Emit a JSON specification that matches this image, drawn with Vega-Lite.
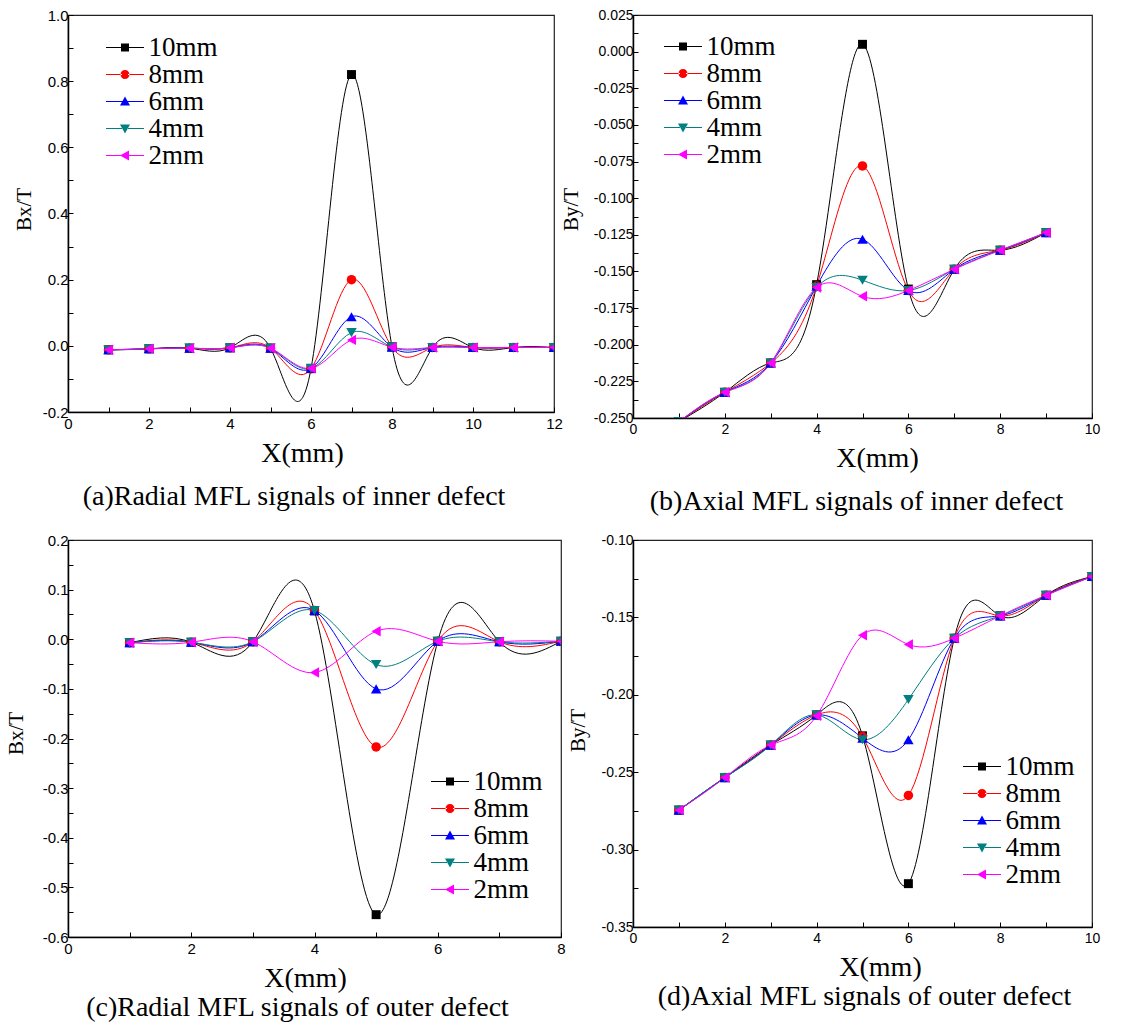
{
  "$schema": "https://vega.github.io/schema/vega-lite/v6.json",
  "padding": {"left": 4, "top": 7, "right": 5, "bottom": 5},
  "background": "white",
  "config": {
    "font": "Liberation Serif",
    "view": {"stroke": "#222", "strokeWidth": 1.2},
    "axis": {"domainColor": "#000", "domainWidth": 1.5, "tickColor": "#000", "tickWidth": 1, "tickSize": -5, "labelFont": "Liberation Sans", "labelFontSize": 15, "labelColor": "#000", "titleFont": "Liberation Serif", "titleFontWeight": "normal", "titleColor": "#000", "grid": false, "labelFlush": false, "labelOverlap": false, "labelPadding": 5},
    "axisX": {"titleFontSize": 28, "titlePadding": 8, "labelPadding": 9},
    "axisY": {"titleFontSize": 21, "titleBaseline": "middle"},
    "title": {"font": "Liberation Serif", "fontSize": 28, "fontWeight": "normal", "color": "#000", "orient": "bottom"}
  },
  "datasets": {
    "a": [
      {"s":"10mm","x":1,"y":-0.012},{"s":"10mm","x":2,"y":-0.009},{"s":"10mm","x":3,"y":-0.007},{"s":"10mm","x":4,"y":-0.006},{"s":"10mm","x":5,"y":-0.007},{"s":"10mm","x":6,"y":-0.069},{"s":"10mm","x":7,"y":0.82},{"s":"10mm","x":8,"y":-0.003},{"s":"10mm","x":9,"y":-0.005},{"s":"10mm","x":10,"y":-0.005},{"s":"10mm","x":11,"y":-0.005},{"s":"10mm","x":12,"y":-0.005},
      {"s":"8mm","x":1,"y":-0.012},{"s":"8mm","x":2,"y":-0.009},{"s":"8mm","x":3,"y":-0.007},{"s":"8mm","x":4,"y":-0.006},{"s":"8mm","x":5,"y":-0.007},{"s":"8mm","x":6,"y":-0.069},{"s":"8mm","x":7,"y":0.2},{"s":"8mm","x":8,"y":-0.004},{"s":"8mm","x":9,"y":-0.005},{"s":"8mm","x":10,"y":-0.005},{"s":"8mm","x":11,"y":-0.005},{"s":"8mm","x":12,"y":-0.005},
      {"s":"6mm","x":1,"y":-0.012},{"s":"6mm","x":2,"y":-0.009},{"s":"6mm","x":3,"y":-0.007},{"s":"6mm","x":4,"y":-0.006},{"s":"6mm","x":5,"y":-0.007},{"s":"6mm","x":6,"y":-0.068},{"s":"6mm","x":7,"y":0.088},{"s":"6mm","x":8,"y":-0.004},{"s":"6mm","x":9,"y":-0.005},{"s":"6mm","x":10,"y":-0.005},{"s":"6mm","x":11,"y":-0.005},{"s":"6mm","x":12,"y":-0.005},
      {"s":"4mm","x":1,"y":-0.013},{"s":"4mm","x":2,"y":-0.009},{"s":"4mm","x":3,"y":-0.007},{"s":"4mm","x":4,"y":-0.006},{"s":"4mm","x":5,"y":-0.007},{"s":"4mm","x":6,"y":-0.068},{"s":"4mm","x":7,"y":0.04},{"s":"4mm","x":8,"y":-0.004},{"s":"4mm","x":9,"y":-0.005},{"s":"4mm","x":10,"y":-0.005},{"s":"4mm","x":11,"y":-0.005},{"s":"4mm","x":12,"y":-0.005},
      {"s":"2mm","x":1,"y":-0.012},{"s":"2mm","x":2,"y":-0.009},{"s":"2mm","x":3,"y":-0.007},{"s":"2mm","x":4,"y":-0.006},{"s":"2mm","x":5,"y":-0.007},{"s":"2mm","x":6,"y":-0.068},{"s":"2mm","x":7,"y":0.018},{"s":"2mm","x":8,"y":-0.004},{"s":"2mm","x":9,"y":-0.005},{"s":"2mm","x":10,"y":-0.005},{"s":"2mm","x":11,"y":-0.005},{"s":"2mm","x":12,"y":-0.005}
    ],
    "b": [
      {"s":"10mm","x":1,"y":-0.2525},{"s":"10mm","x":2,"y":-0.2325},{"s":"10mm","x":3,"y":-0.2125},{"s":"10mm","x":4,"y":-0.159},{"s":"10mm","x":5,"y":0.005},{"s":"10mm","x":6,"y":-0.162},{"s":"10mm","x":7,"y":-0.1485},{"s":"10mm","x":8,"y":-0.1355},{"s":"10mm","x":9,"y":-0.1235},
      {"s":"8mm","x":1,"y":-0.2525},{"s":"8mm","x":2,"y":-0.2325},{"s":"8mm","x":3,"y":-0.2125},{"s":"8mm","x":4,"y":-0.16},{"s":"8mm","x":5,"y":-0.078},{"s":"8mm","x":6,"y":-0.163},{"s":"8mm","x":7,"y":-0.1485},{"s":"8mm","x":8,"y":-0.1355},{"s":"8mm","x":9,"y":-0.1235},
      {"s":"6mm","x":1,"y":-0.2525},{"s":"6mm","x":2,"y":-0.2325},{"s":"6mm","x":3,"y":-0.2125},{"s":"6mm","x":4,"y":-0.16},{"s":"6mm","x":5,"y":-0.128},{"s":"6mm","x":6,"y":-0.163},{"s":"6mm","x":7,"y":-0.1485},{"s":"6mm","x":8,"y":-0.1355},{"s":"6mm","x":9,"y":-0.1235},
      {"s":"4mm","x":1,"y":-0.2525},{"s":"4mm","x":2,"y":-0.2325},{"s":"4mm","x":3,"y":-0.2125},{"s":"4mm","x":4,"y":-0.161},{"s":"4mm","x":5,"y":-0.156},{"s":"4mm","x":6,"y":-0.163},{"s":"4mm","x":7,"y":-0.1485},{"s":"4mm","x":8,"y":-0.1355},{"s":"4mm","x":9,"y":-0.1235},
      {"s":"2mm","x":1,"y":-0.2525},{"s":"2mm","x":2,"y":-0.2325},{"s":"2mm","x":3,"y":-0.2125},{"s":"2mm","x":4,"y":-0.161},{"s":"2mm","x":5,"y":-0.167},{"s":"2mm","x":6,"y":-0.163},{"s":"2mm","x":7,"y":-0.1485},{"s":"2mm","x":8,"y":-0.1355},{"s":"2mm","x":9,"y":-0.1235}
    ],
    "c": [
      {"s":"10mm","x":1,"y":-0.007},{"s":"10mm","x":2,"y":-0.006},{"s":"10mm","x":3,"y":-0.005},{"s":"10mm","x":4,"y":0.057},{"s":"10mm","x":5,"y":-0.555},{"s":"10mm","x":6,"y":-0.004},{"s":"10mm","x":7,"y":-0.005},{"s":"10mm","x":8,"y":-0.004},
      {"s":"8mm","x":1,"y":-0.007},{"s":"8mm","x":2,"y":-0.006},{"s":"8mm","x":3,"y":-0.005},{"s":"8mm","x":4,"y":0.058},{"s":"8mm","x":5,"y":-0.217},{"s":"8mm","x":6,"y":-0.004},{"s":"8mm","x":7,"y":-0.005},{"s":"8mm","x":8,"y":-0.004},
      {"s":"6mm","x":1,"y":-0.007},{"s":"6mm","x":2,"y":-0.006},{"s":"6mm","x":3,"y":-0.005},{"s":"6mm","x":4,"y":0.058},{"s":"6mm","x":5,"y":-0.1},{"s":"6mm","x":6,"y":-0.004},{"s":"6mm","x":7,"y":-0.005},{"s":"6mm","x":8,"y":-0.004},
      {"s":"4mm","x":1,"y":-0.007},{"s":"4mm","x":2,"y":-0.006},{"s":"4mm","x":3,"y":-0.005},{"s":"4mm","x":4,"y":0.058},{"s":"4mm","x":5,"y":-0.051},{"s":"4mm","x":6,"y":-0.004},{"s":"4mm","x":7,"y":-0.005},{"s":"4mm","x":8,"y":-0.004},
      {"s":"2mm","x":1,"y":-0.007},{"s":"2mm","x":2,"y":-0.006},{"s":"2mm","x":3,"y":-0.005},{"s":"2mm","x":4,"y":-0.067},{"s":"2mm","x":5,"y":0.016},{"s":"2mm","x":6,"y":-0.004},{"s":"2mm","x":7,"y":-0.005},{"s":"2mm","x":8,"y":-0.004}
    ],
    "d": [
      {"s":"10mm","x":1,"y":-0.2745},{"s":"10mm","x":2,"y":-0.2535},{"s":"10mm","x":3,"y":-0.2325},{"s":"10mm","x":4,"y":-0.213},{"s":"10mm","x":5,"y":-0.2265},{"s":"10mm","x":6,"y":-0.322},{"s":"10mm","x":7,"y":-0.1635},{"s":"10mm","x":8,"y":-0.149},{"s":"10mm","x":9,"y":-0.1357},{"s":"10mm","x":10,"y":-0.1236},
      {"s":"8mm","x":1,"y":-0.2745},{"s":"8mm","x":2,"y":-0.2535},{"s":"8mm","x":3,"y":-0.2325},{"s":"8mm","x":4,"y":-0.213},{"s":"8mm","x":5,"y":-0.227},{"s":"8mm","x":6,"y":-0.265},{"s":"8mm","x":7,"y":-0.1635},{"s":"8mm","x":8,"y":-0.149},{"s":"8mm","x":9,"y":-0.1357},{"s":"8mm","x":10,"y":-0.1236},
      {"s":"6mm","x":1,"y":-0.2745},{"s":"6mm","x":2,"y":-0.2535},{"s":"6mm","x":3,"y":-0.2325},{"s":"6mm","x":4,"y":-0.213},{"s":"6mm","x":5,"y":-0.228},{"s":"6mm","x":6,"y":-0.229},{"s":"6mm","x":7,"y":-0.1635},{"s":"6mm","x":8,"y":-0.149},{"s":"6mm","x":9,"y":-0.1357},{"s":"6mm","x":10,"y":-0.1236},
      {"s":"4mm","x":1,"y":-0.2745},{"s":"4mm","x":2,"y":-0.2535},{"s":"4mm","x":3,"y":-0.2325},{"s":"4mm","x":4,"y":-0.213},{"s":"4mm","x":5,"y":-0.229},{"s":"4mm","x":6,"y":-0.203},{"s":"4mm","x":7,"y":-0.1635},{"s":"4mm","x":8,"y":-0.149},{"s":"4mm","x":9,"y":-0.1357},{"s":"4mm","x":10,"y":-0.1236},
      {"s":"2mm","x":1,"y":-0.2745},{"s":"2mm","x":2,"y":-0.2535},{"s":"2mm","x":3,"y":-0.2325},{"s":"2mm","x":4,"y":-0.2135},{"s":"2mm","x":5,"y":-0.1615},{"s":"2mm","x":6,"y":-0.1675},{"s":"2mm","x":7,"y":-0.1635},{"s":"2mm","x":8,"y":-0.149},{"s":"2mm","x":9,"y":-0.1357},{"s":"2mm","x":10,"y":-0.1236}
    ]
  },
  "columns": 2,
  "bounds": "flush",
  "spacing": {"row": 122, "column": 72},
  "resolve": {"scale": {"color": "independent", "shape": "independent", "stroke": "independent"}, "legend": {"color": "independent", "shape": "independent"}},
  "concat": [
    {
      "width": 486, "height": 397,
      "data": {"name": "a"},
      "title": {"text": "(a)Radial MFL signals of inner defect", "dx": -17, "offset": 16},
      "encoding": {
        "x": {"field": "x", "type": "quantitative", "scale": {"domain": [0, 12], "nice": false, "zero": false},
              "axis": {"title": "X(mm)", "values": [0,1,2,3,4,5,6,7,8,9,10,11,12], "labelExpr": "datum.value % 2 == 0 ? datum.label : ''", "titleX": 234}},
        "y": {"field": "y", "type": "quantitative", "scale": {"domain": [-0.2, 1.0], "nice": false, "zero": false},
              "axis": {"title": "Bx/T", "values": [-0.2,-0.1,0,0.1,0.2,0.3,0.4,0.5,0.6,0.7,0.8,0.9,1.0], "labelExpr": "abs(round(datum.value*10)) % 2 == 0 ? replace(format(datum.value, '.1f'), '\u2212', '-') : ''", "titleX": -43.5, "titleY": 194}}
      },
      "layer": [
        {"mark": {"type": "point", "filled": true, "opacity": 1, "size": 1, "clip": true},
         "encoding": {
           "color": {"field": "s", "type": "nominal", "scale": {"domain": ["10mm","8mm","6mm","4mm","2mm"], "range": ["#000000","#ff0000","#0000ff","#008080","#ff00ff"]}, "legend": {"orient": "none", "title": null, "legendX": 43.5, "legendY": 19, "labelFont": "Liberation Serif", "labelFontSize": 27, "labelColor": "#000", "symbolSize": 400, "symbolStrokeWidth": 0, "symbolOpacity": 1, "labelOffset": 10, "rowPadding": -4, "padding": 0}},
           "shape": {"field": "s", "type": "nominal", "scale": {"domain": ["10mm","8mm","6mm","4mm","2mm"], "range": [
             "M-1.9,-0.06H-0.3V0.06H-1.9ZM0.3,-0.06H1.9V0.06H0.3ZM-0.4,-0.4H0.4V0.4H-0.4Z",
             "M-1.9,-0.06H-0.3V0.06H-1.9ZM0.3,-0.06H1.9V0.06H0.3ZM-0.45,0A0.45,0.45,0,1,0,0.45,0A0.45,0.45,0,1,0,-0.45,0Z",
             "M-1.9,-0.06H-0.25V0.06H-1.9ZM0.25,-0.06H1.9V0.06H0.25ZM0,-0.5L0.5,0.4L-0.5,0.4Z",
             "M-1.9,-0.06H-0.25V0.06H-1.9ZM0.25,-0.06H1.9V0.06H0.25ZM0,0.5L0.5,-0.4L-0.5,-0.4Z",
             "M-1.9,-0.06H-0.45V0.06H-1.9ZM0.4,-0.06H1.9V0.06H0.4ZM-0.5,0L0.4,-0.5L0.4,0.5Z"]}, "legend": {"orient": "none", "title": null, "legendX": 43.5, "legendY": 19, "labelFont": "Liberation Serif", "labelFontSize": 27, "labelColor": "#000", "symbolSize": 400, "symbolStrokeWidth": 0, "symbolOpacity": 1, "labelOffset": 10, "rowPadding": -4, "padding": 0}}
         }},
        {"mark": {"type": "line", "interpolate": "natural", "strokeWidth": 1, "clip": true},
         "encoding": {"stroke": {"field": "s", "type": "nominal", "scale": {"domain": ["10mm","8mm","6mm","4mm","2mm"], "range": ["#000000","#ff0000","#0000ff","#008080","#ff00ff"]}, "legend": null}}},
        {"transform": [{"filter": "datum.s == '10mm'"}], "mark": {"type": "point", "shape": "square", "filled": true, "size": 80, "color": "#000000", "opacity": 1, "clip": true}, "encoding": {}},
        {"transform": [{"filter": "datum.s == '8mm'"}], "mark": {"type": "point", "shape": "circle", "filled": true, "size": 90, "color": "#ff0000", "opacity": 1, "clip": true}, "encoding": {}},
        {"transform": [{"filter": "datum.s == '6mm'"}], "mark": {"type": "point", "shape": "triangle-up", "filled": true, "size": 110, "color": "#0000ff", "opacity": 1, "clip": true}, "encoding": {}},
        {"transform": [{"filter": "datum.s == '4mm'"}], "mark": {"type": "point", "shape": "triangle-down", "filled": true, "size": 110, "color": "#008080", "opacity": 1, "clip": true}, "encoding": {}},
        {"transform": [{"filter": "datum.s == '2mm'"}], "mark": {"type": "point", "shape": "triangle-left", "filled": true, "size": 110, "color": "#ff00ff", "opacity": 1, "clip": true}, "encoding": {}}
      ]
    },
    {
      "width": 459, "height": 403,
      "data": {"name": "b"},
      "title": {"text": "(b)Axial MFL signals of inner defect", "dx": -6, "offset": 16},
      "encoding": {
        "x": {"field": "x", "type": "quantitative", "scale": {"domain": [0, 10], "nice": false, "zero": false},
              "axis": {"title": "X(mm)", "values": [0,1,2,3,4,5,6,7,8,9,10], "labelExpr": "datum.value % 2 == 0 ? datum.label : ''", "titleX": 244, "labelFontSize": 14}},
        "y": {"field": "y", "type": "quantitative", "scale": {"domain": [-0.25, 0.025], "nice": false, "zero": false},
              "axis": {"title": "By/T", "values": [-0.25,-0.2375,-0.225,-0.2125,-0.2,-0.1875,-0.175,-0.1625,-0.15,-0.1375,-0.125,-0.1125,-0.1,-0.0875,-0.075,-0.0625,-0.05,-0.0375,-0.025,-0.0125,0,0.0125,0.025], "labelExpr": "abs(round(datum.value/0.0125)) % 2 == 0 ? replace(format(datum.value, '.3f'), '\u2212', '-') : ''", "titleX": -62, "titleY": 194, "labelFontSize": 14}}
      },
      "layer": [
        {"mark": {"type": "point", "filled": true, "opacity": 1, "size": 1, "clip": true},
         "encoding": {
           "color": {"field": "s", "type": "nominal", "scale": {"domain": ["10mm","8mm","6mm","4mm","2mm"], "range": ["#000000","#ff0000","#0000ff","#008080","#ff00ff"]}, "legend": {"orient": "none", "title": null, "legendX": 36.5, "legendY": 18, "labelFont": "Liberation Serif", "labelFontSize": 27, "labelColor": "#000", "symbolSize": 400, "symbolStrokeWidth": 0, "symbolOpacity": 1, "labelOffset": 10, "rowPadding": -4, "padding": 0}},
           "shape": {"field": "s", "type": "nominal", "scale": {"domain": ["10mm","8mm","6mm","4mm","2mm"], "range": [
             "M-1.9,-0.06H-0.3V0.06H-1.9ZM0.3,-0.06H1.9V0.06H0.3ZM-0.4,-0.4H0.4V0.4H-0.4Z",
             "M-1.9,-0.06H-0.3V0.06H-1.9ZM0.3,-0.06H1.9V0.06H0.3ZM-0.45,0A0.45,0.45,0,1,0,0.45,0A0.45,0.45,0,1,0,-0.45,0Z",
             "M-1.9,-0.06H-0.25V0.06H-1.9ZM0.25,-0.06H1.9V0.06H0.25ZM0,-0.5L0.5,0.4L-0.5,0.4Z",
             "M-1.9,-0.06H-0.25V0.06H-1.9ZM0.25,-0.06H1.9V0.06H0.25ZM0,0.5L0.5,-0.4L-0.5,-0.4Z",
             "M-1.9,-0.06H-0.45V0.06H-1.9ZM0.4,-0.06H1.9V0.06H0.4ZM-0.5,0L0.4,-0.5L0.4,0.5Z"]}, "legend": {"orient": "none", "title": null, "legendX": 36.5, "legendY": 18, "labelFont": "Liberation Serif", "labelFontSize": 27, "labelColor": "#000", "symbolSize": 400, "symbolStrokeWidth": 0, "symbolOpacity": 1, "labelOffset": 10, "rowPadding": -4, "padding": 0}}
         }},
        {"mark": {"type": "line", "interpolate": "natural", "strokeWidth": 1, "clip": true},
         "encoding": {"stroke": {"field": "s", "type": "nominal", "scale": {"domain": ["10mm","8mm","6mm","4mm","2mm"], "range": ["#000000","#ff0000","#0000ff","#008080","#ff00ff"]}, "legend": null}}},
        {"transform": [{"filter": "datum.s == '10mm'"}], "mark": {"type": "point", "shape": "square", "filled": true, "size": 80, "color": "#000000", "opacity": 1, "clip": true}, "encoding": {}},
        {"transform": [{"filter": "datum.s == '8mm'"}], "mark": {"type": "point", "shape": "circle", "filled": true, "size": 90, "color": "#ff0000", "opacity": 1, "clip": true}, "encoding": {}},
        {"transform": [{"filter": "datum.s == '6mm'"}], "mark": {"type": "point", "shape": "triangle-up", "filled": true, "size": 110, "color": "#0000ff", "opacity": 1, "clip": true}, "encoding": {}},
        {"transform": [{"filter": "datum.s == '4mm'"}], "mark": {"type": "point", "shape": "triangle-down", "filled": true, "size": 110, "color": "#008080", "opacity": 1, "clip": true}, "encoding": {}},
        {"transform": [{"filter": "datum.s == '2mm'"}], "mark": {"type": "point", "shape": "triangle-left", "filled": true, "size": 110, "color": "#ff00ff", "opacity": 1, "clip": true}, "encoding": {}}
      ]
    },
    {
      "width": 493, "height": 397,
      "data": {"name": "c"},
      "title": {"text": "(c)Radial MFL signals of outer defect", "dx": -17, "offset": 2},
      "encoding": {
        "x": {"field": "x", "type": "quantitative", "scale": {"domain": [0, 8], "nice": false, "zero": false},
              "axis": {"title": "X(mm)", "values": [0,1,2,3,4,5,6,7,8], "labelExpr": "datum.value % 2 == 0 ? datum.label : ''", "titleX": 237}},
        "y": {"field": "y", "type": "quantitative", "scale": {"domain": [-0.6, 0.2], "nice": false, "zero": false},
              "axis": {"title": "Bx/T", "values": [-0.6,-0.55,-0.5,-0.45,-0.4,-0.35,-0.3,-0.25,-0.2,-0.15,-0.1,-0.05,0,0.05,0.1,0.15,0.2], "labelExpr": "abs(round(datum.value*20)) % 2 == 0 ? replace(format(datum.value, '.1f'), '\u2212', '-') : ''", "titleX": -51.5, "titleY": 193}}
      },
      "layer": [
        {"mark": {"type": "point", "filled": true, "opacity": 1, "size": 1, "clip": true},
         "encoding": {
           "color": {"field": "s", "type": "nominal", "scale": {"domain": ["10mm","8mm","6mm","4mm","2mm"], "range": ["#000000","#ff0000","#0000ff","#008080","#ff00ff"]}, "legend": {"orient": "none", "title": null, "legendX": 368.5, "legendY": 228, "labelFont": "Liberation Serif", "labelFontSize": 27, "labelColor": "#000", "symbolSize": 400, "symbolStrokeWidth": 0, "symbolOpacity": 1, "labelOffset": 10, "rowPadding": -4, "padding": 0}},
           "shape": {"field": "s", "type": "nominal", "scale": {"domain": ["10mm","8mm","6mm","4mm","2mm"], "range": [
             "M-1.9,-0.06H-0.3V0.06H-1.9ZM0.3,-0.06H1.9V0.06H0.3ZM-0.4,-0.4H0.4V0.4H-0.4Z",
             "M-1.9,-0.06H-0.3V0.06H-1.9ZM0.3,-0.06H1.9V0.06H0.3ZM-0.45,0A0.45,0.45,0,1,0,0.45,0A0.45,0.45,0,1,0,-0.45,0Z",
             "M-1.9,-0.06H-0.25V0.06H-1.9ZM0.25,-0.06H1.9V0.06H0.25ZM0,-0.5L0.5,0.4L-0.5,0.4Z",
             "M-1.9,-0.06H-0.25V0.06H-1.9ZM0.25,-0.06H1.9V0.06H0.25ZM0,0.5L0.5,-0.4L-0.5,-0.4Z",
             "M-1.9,-0.06H-0.45V0.06H-1.9ZM0.4,-0.06H1.9V0.06H0.4ZM-0.5,0L0.4,-0.5L0.4,0.5Z"]}, "legend": {"orient": "none", "title": null, "legendX": 368.5, "legendY": 228, "labelFont": "Liberation Serif", "labelFontSize": 27, "labelColor": "#000", "symbolSize": 400, "symbolStrokeWidth": 0, "symbolOpacity": 1, "labelOffset": 10, "rowPadding": -4, "padding": 0}}
         }},
        {"mark": {"type": "line", "interpolate": "natural", "strokeWidth": 1, "clip": true},
         "encoding": {"stroke": {"field": "s", "type": "nominal", "scale": {"domain": ["10mm","8mm","6mm","4mm","2mm"], "range": ["#000000","#ff0000","#0000ff","#008080","#ff00ff"]}, "legend": null}}},
        {"transform": [{"filter": "datum.s == '10mm'"}], "mark": {"type": "point", "shape": "square", "filled": true, "size": 80, "color": "#000000", "opacity": 1, "clip": true}, "encoding": {}},
        {"transform": [{"filter": "datum.s == '8mm'"}], "mark": {"type": "point", "shape": "circle", "filled": true, "size": 90, "color": "#ff0000", "opacity": 1, "clip": true}, "encoding": {}},
        {"transform": [{"filter": "datum.s == '6mm'"}], "mark": {"type": "point", "shape": "triangle-up", "filled": true, "size": 110, "color": "#0000ff", "opacity": 1, "clip": true}, "encoding": {}},
        {"transform": [{"filter": "datum.s == '4mm'"}], "mark": {"type": "point", "shape": "triangle-down", "filled": true, "size": 110, "color": "#008080", "opacity": 1, "clip": true}, "encoding": {}},
        {"transform": [{"filter": "datum.s == '2mm'"}], "mark": {"type": "point", "shape": "triangle-left", "filled": true, "size": 110, "color": "#ff00ff", "opacity": 1, "clip": true}, "encoding": {}}
      ]
    },
    {
      "width": 459, "height": 387,
      "data": {"name": "d"},
      "title": {"text": "(d)Axial MFL signals of outer defect", "dx": 2, "offset": 2},
      "encoding": {
        "x": {"field": "x", "type": "quantitative", "scale": {"domain": [0, 10], "nice": false, "zero": false},
              "axis": {"title": "X(mm)", "values": [0,1,2,3,4,5,6,7,8,9,10], "labelExpr": "datum.value % 2 == 0 ? datum.label : ''", "titleX": 247, "labelFontSize": 14}},
        "y": {"field": "y", "type": "quantitative", "scale": {"domain": [-0.35, -0.1], "nice": false, "zero": false},
              "axis": {"title": "By/T", "values": [-0.35,-0.325,-0.3,-0.275,-0.25,-0.225,-0.2,-0.175,-0.15,-0.125,-0.1], "labelExpr": "abs(round(datum.value*40)) % 2 == 0 ? replace(format(datum.value, '.2f'), '\u2212', '-') : ''", "titleX": -55, "titleY": 190, "labelFontSize": 14}}
      },
      "layer": [
        {"mark": {"type": "point", "filled": true, "opacity": 1, "size": 1, "clip": true},
         "encoding": {
           "color": {"field": "s", "type": "nominal", "scale": {"domain": ["10mm","8mm","6mm","4mm","2mm"], "range": ["#000000","#ff0000","#0000ff","#008080","#ff00ff"]}, "legend": {"orient": "none", "title": null, "legendX": 335.5, "legendY": 213, "labelFont": "Liberation Serif", "labelFontSize": 27, "labelColor": "#000", "symbolSize": 400, "symbolStrokeWidth": 0, "symbolOpacity": 1, "labelOffset": 10, "rowPadding": -4, "padding": 0}},
           "shape": {"field": "s", "type": "nominal", "scale": {"domain": ["10mm","8mm","6mm","4mm","2mm"], "range": [
             "M-1.9,-0.06H-0.3V0.06H-1.9ZM0.3,-0.06H1.9V0.06H0.3ZM-0.4,-0.4H0.4V0.4H-0.4Z",
             "M-1.9,-0.06H-0.3V0.06H-1.9ZM0.3,-0.06H1.9V0.06H0.3ZM-0.45,0A0.45,0.45,0,1,0,0.45,0A0.45,0.45,0,1,0,-0.45,0Z",
             "M-1.9,-0.06H-0.25V0.06H-1.9ZM0.25,-0.06H1.9V0.06H0.25ZM0,-0.5L0.5,0.4L-0.5,0.4Z",
             "M-1.9,-0.06H-0.25V0.06H-1.9ZM0.25,-0.06H1.9V0.06H0.25ZM0,0.5L0.5,-0.4L-0.5,-0.4Z",
             "M-1.9,-0.06H-0.45V0.06H-1.9ZM0.4,-0.06H1.9V0.06H0.4ZM-0.5,0L0.4,-0.5L0.4,0.5Z"]}, "legend": {"orient": "none", "title": null, "legendX": 335.5, "legendY": 213, "labelFont": "Liberation Serif", "labelFontSize": 27, "labelColor": "#000", "symbolSize": 400, "symbolStrokeWidth": 0, "symbolOpacity": 1, "labelOffset": 10, "rowPadding": -4, "padding": 0}}
         }},
        {"mark": {"type": "line", "interpolate": "natural", "strokeWidth": 1, "clip": true},
         "encoding": {"stroke": {"field": "s", "type": "nominal", "scale": {"domain": ["10mm","8mm","6mm","4mm","2mm"], "range": ["#000000","#ff0000","#0000ff","#008080","#ff00ff"]}, "legend": null}}},
        {"transform": [{"filter": "datum.s == '10mm'"}], "mark": {"type": "point", "shape": "square", "filled": true, "size": 80, "color": "#000000", "opacity": 1, "clip": true}, "encoding": {}},
        {"transform": [{"filter": "datum.s == '8mm'"}], "mark": {"type": "point", "shape": "circle", "filled": true, "size": 90, "color": "#ff0000", "opacity": 1, "clip": true}, "encoding": {}},
        {"transform": [{"filter": "datum.s == '6mm'"}], "mark": {"type": "point", "shape": "triangle-up", "filled": true, "size": 110, "color": "#0000ff", "opacity": 1, "clip": true}, "encoding": {}},
        {"transform": [{"filter": "datum.s == '4mm'"}], "mark": {"type": "point", "shape": "triangle-down", "filled": true, "size": 110, "color": "#008080", "opacity": 1, "clip": true}, "encoding": {}},
        {"transform": [{"filter": "datum.s == '2mm'"}], "mark": {"type": "point", "shape": "triangle-left", "filled": true, "size": 110, "color": "#ff00ff", "opacity": 1, "clip": true}, "encoding": {}}
      ]
    }
  ]
}
